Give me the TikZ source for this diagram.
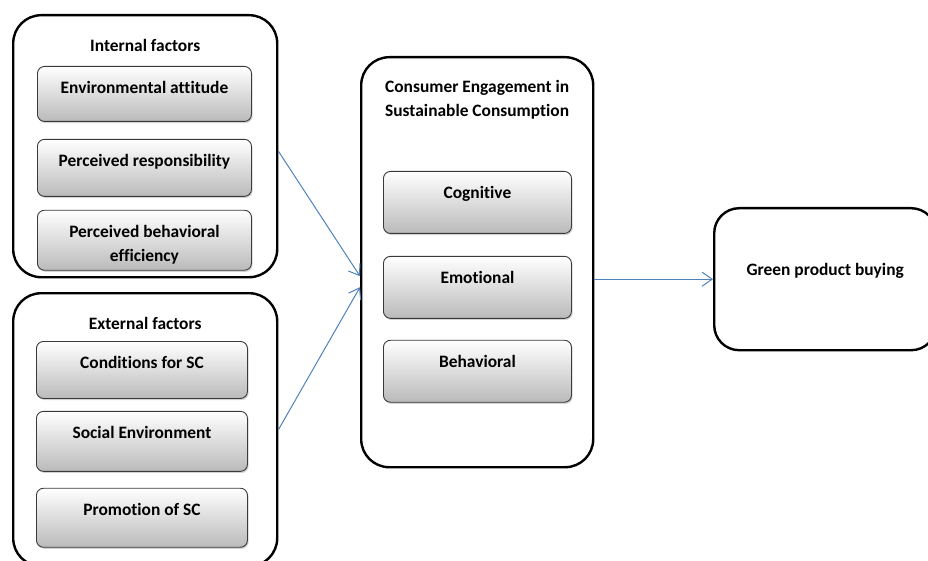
\documentclass[tikz,border=0pt]{standalone}
\usepackage{fontspec}
\setmainfont{Carlito}[Ligatures=NoCommon]
\usetikzlibrary{arrows.meta,positioning,calc,shadows}
\definecolor{clArrow}{HTML}{4F81BD}
\definecolor{clEdge}{HTML}{3A3A3A}
\tikzset{
  panel/.style={rectangle, rounded corners=28pt, draw=black, line width=2.4pt,
                anchor=north west, inner sep=0pt},
  headtext/.style={anchor=north, align=center, inner sep=5pt,
                   font=\fontsize{17.4pt}{24.5pt}\selectfont\bfseries},
  factor/.style={rectangle, rounded corners=7pt, draw=clEdge, line width=0.9pt,
                 top color=white, bottom color=black!27, inner sep=0pt,
                 drop shadow={shadow xshift=1.2pt, shadow yshift=-1.6pt, opacity=0.35},
                 label={[headtext, yshift=-10pt]north:#1}},
  flow/.style={-{Straight Barb[length=10pt,width=14pt]}, line width=1pt, draw=clArrow},
}
\begin{document}
\begin{tikzpicture}[x=1pt, y=-1pt]
  \useasboundingbox (0,0) rectangle (928,561);
  % outer panels
  \node[panel, minimum width=264pt, minimum height=262pt,
        label={[headtext, yshift=-20pt]north:Internal factors}] (int) at (12,14) {};
  \node[panel, minimum width=264pt, minimum height=273pt,
        label={[headtext, yshift=-20pt]north:External factors}] (ext) at (12,292) {};
  \node[panel, minimum width=232pt, minimum height=410pt,
        label={[headtext, align=left, yshift=-19pt]north:Consumer Engagement in\\Sustainable Consumption}] (eng) at (360,56) {};
  \node[panel, rounded corners=25pt, minimum width=222pt, minimum height=142pt,
        label={[headtext, yshift=-51pt]north:Green product buying}] (buy) at (713,207) {};
  % internal factors
  \node[factor=Environmental attitude, anchor=north west,
        minimum width=214pt, minimum height=55pt] (envatt) at (37,66) {};
  \node[factor=Perceived responsibility, below=17pt of envatt,
        minimum width=214pt, minimum height=57pt] (resp) {};
  \node[factor={Perceived behavioral\\efficiency}, below=13pt of resp,
        minimum width=214pt, minimum height=60pt] (effic) {};
  % external factors
  \node[factor=Conditions for SC, anchor=north west,
        minimum width=211pt, minimum height=57pt] (cond) at (36,341) {};
  \node[factor=Social Environment, below=12pt of cond,
        minimum width=211pt, minimum height=60pt] (socenv) {};
  \node[factor=Promotion of SC, below=16pt of socenv,
        minimum width=211pt, minimum height=59pt] (promo) {};
  % engagement dimensions
  \node[factor=Cognitive, anchor=north west,
        minimum width=188pt, minimum height=62pt] (cog) at (383,171) {};
  \node[factor=Emotional, below=22pt of cog,
        minimum width=188pt, minimum height=62pt] (emo) {};
  \node[factor=Behavioral, below=21pt of emo,
        minimum width=188pt, minimum height=62pt] (behav) {};
  % connectors
  \draw[flow] ($(int.east)+(0,5)$) -- ($(eng.west)+(0,14)$);
  \draw[flow] (ext.east) -- ($(eng.west)+(0,25)$);
  \draw[flow] (buy.west -| eng.east) -- (buy.west);
\end{tikzpicture}
\end{document}
